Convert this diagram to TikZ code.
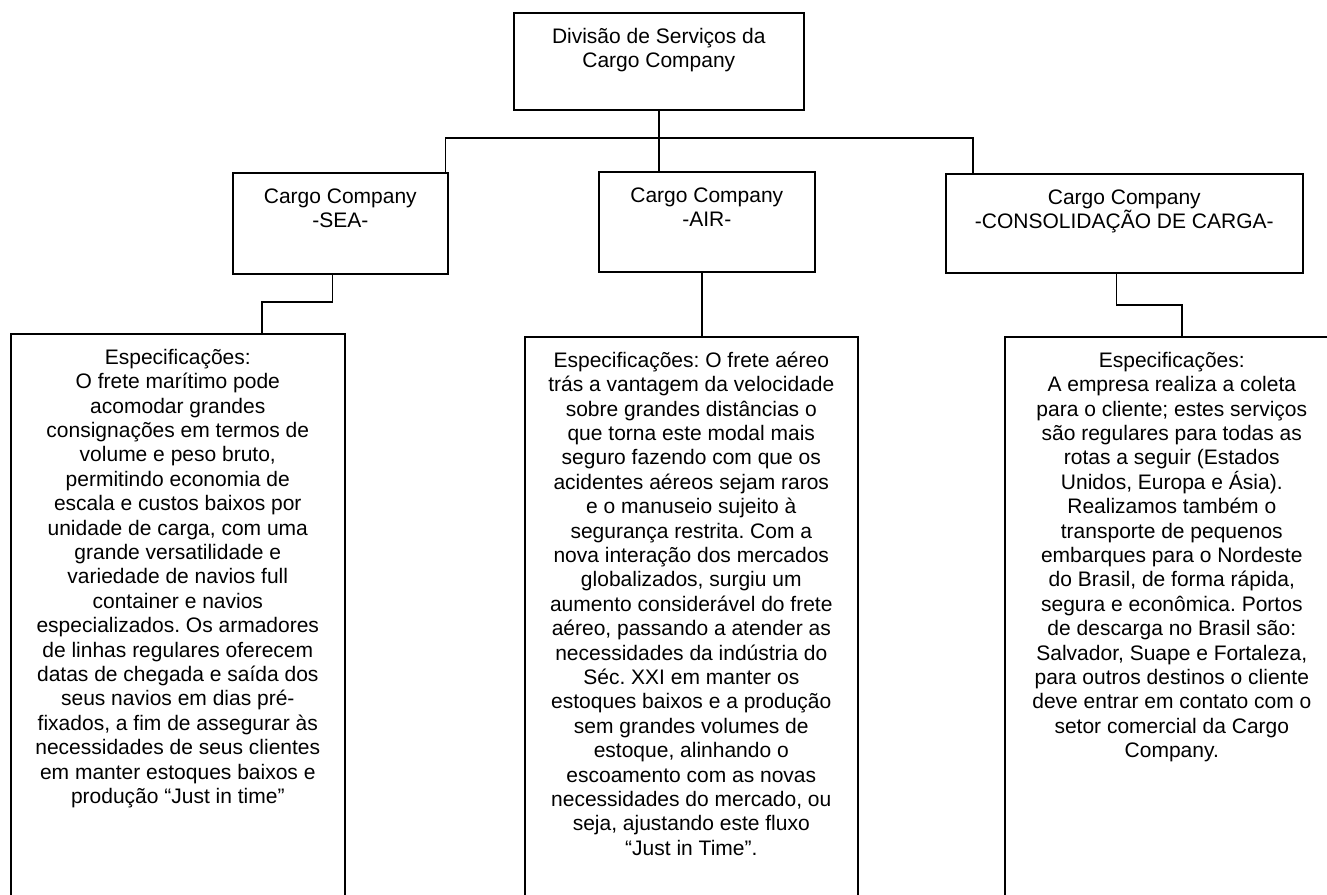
\documentclass[tikz,border=0pt]{standalone}
\usepackage{fontspec}
\setmainfont{Liberation Sans}
\frenchspacing
\tikzset{caixa/.style={draw,line width=1.6pt,inner sep=0pt,anchor=north west,font=\fontsize{21}{24.4}\selectfont},
  liga/.style={line width=1.6pt}}
\newcommand{\conteudo}[3]{\parbox[t][#2][t]{#1}{\centering\rule{0pt}{30.5pt}#3}}

\begin{document}
\begin{tikzpicture}[x=1pt,y=-1pt]
\clip (0,0) rectangle (1327,894);
\node[caixa] (topo) at (513,12) {\conteudo{290pt}{97pt}{Divisão de Serviços da\\Cargo Company}};
\node[caixa] (sea) at (232,172) {\conteudo{215pt}{101pt}{Cargo Company\\-SEA-}};
\node[caixa] (air) at (598,171) {\conteudo{216pt}{100pt}{Cargo Company\\-AIR-}};
\node[caixa] (cons) at (945,173) {\conteudo{357pt}{99pt}{Cargo Company\\-CONSOLIDAÇÃO DE CARGA-}};
\node[caixa] (esq) at (10,333) {\conteudo{334pt}{600pt}{Especificações:\\O frete marítimo pode\\acomodar grandes\\consignações em termos de\\volume e peso bruto,\\permitindo economia de\\escala e custos baixos por\\unidade de carga, com uma\\grande versatilidade e\\variedade de navios full\\container e navios\\especializados. Os armadores\\de linhas regulares oferecem\\datas de chegada e saída dos\\seus navios em dias pré-\\fixados, a fim de assegurar às\\necessidades de seus clientes\\em manter estoques baixos e\\produção “Just in time”}};
\node[caixa] (meio) at (524,336) {\conteudo{333pt}{600pt}{Especificações: O frete aéreo\\trás a vantagem da velocidade\\sobre grandes distâncias o\\que torna este modal mais\\seguro fazendo com que os\\acidentes aéreos sejam raros\\e o manuseio sujeito à\\segurança restrita. Com a\\nova interação dos mercados\\globalizados, surgiu um\\aumento considerável do frete\\aéreo, passando a atender as\\necessidades da indústria do\\Séc. XXI em manter os\\estoques baixos e a produção\\sem grandes volumes de\\estoque, alinhando o\\escoamento com as novas\\necessidades do mercado, ou\\seja, ajustando este fluxo\\“Just in Time”.}};
\node[caixa] (dir) at (1004,336) {\conteudo{334pt}{600pt}{Especificações:\\A empresa realiza a coleta\\para o cliente; estes serviços\\são regulares para todas as\\rotas a seguir (Estados\\Unidos, Europa e Ásia).\\Realizamos também o\\transporte de pequenos\\embarques para o Nordeste\\do Brasil, de forma rápida,\\segura e econômica. Portos\\de descarga no Brasil são:\\Salvador, Suape e Fortaleza,\\para outros destinos o cliente\\deve entrar em contato com o\\setor comercial da Cargo\\Company.}};
\coordinate (barra) at (0,138);
\coordinate (s1) at ([xshift=-3pt]sea.north east);
\coordinate (c1) at ([xshift=28pt]cons.north west);
\coordinate (s2) at ([xshift=-8pt]sea.south);
\coordinate (e1) at ([xshift=84pt]esq.north);
\coordinate (a2) at ([xshift=-5pt]air.south);
\coordinate (c2) at ([xshift=-8pt]cons.south);
\coordinate (d1) at ([xshift=10pt]dir.north);
\draw[liga] (topo.south) -- (topo.south |- air.north);
\draw[liga] (s1) |- (barra -| c1) -- (c1);
\draw[liga] (s2) |- (0,302 -| e1) -- (e1);
\draw[liga] (a2) -- (a2 |- meio.north);
\draw[liga] (c2) |- (0,305 -| d1) -- (d1);
\end{tikzpicture}
\end{document}
